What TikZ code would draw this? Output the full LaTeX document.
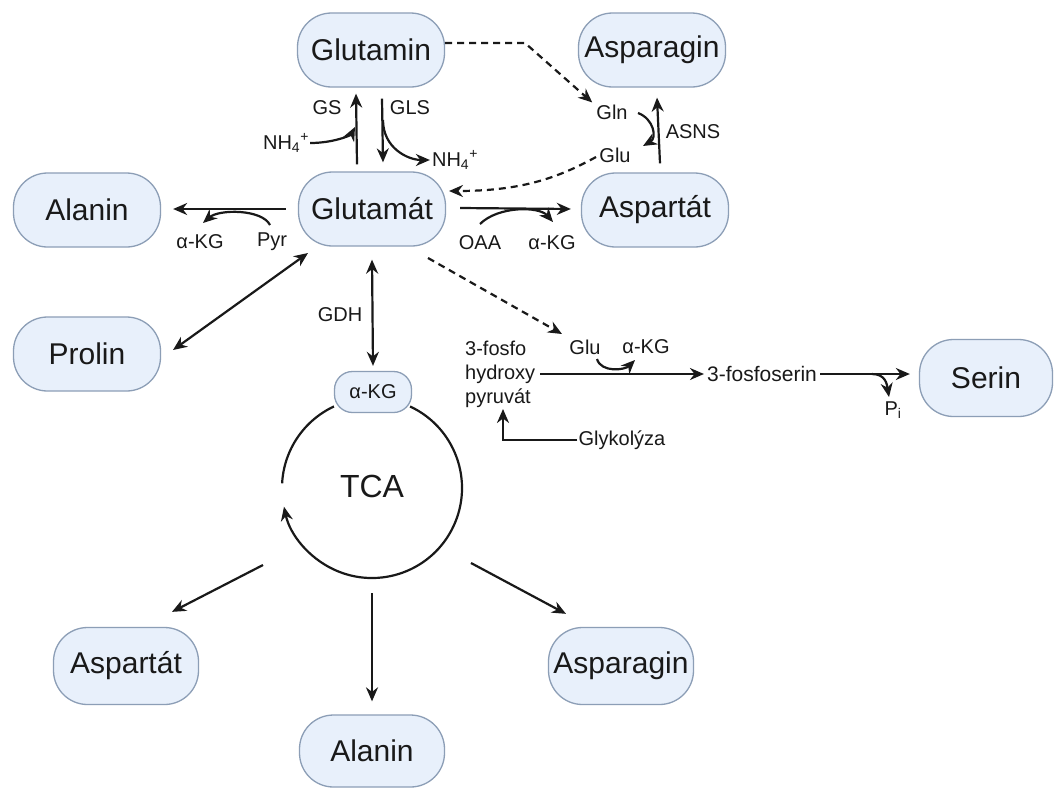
\documentclass[tikz,border=0pt]{standalone}
\usepackage{fontspec}
\setmainfont{Liberation Sans}
\usetikzlibrary{arrows.meta}
\definecolor{boxfill}{RGB}{232,240,251}
\definecolor{boxline}{RGB}{140,158,182}
\definecolor{ink}{RGB}{25,25,25}
\begin{document}
\begin{tikzpicture}[x=1pt,y=-1pt,
  box/.style={draw=boxline, fill=boxfill, line width=1.3pt, rounded corners=34pt,
    minimum width=147pt, minimum height=74pt, inner sep=0pt,
    font=\fontsize{30}{36}\selectfont, text=ink},
  lbl/.style={font=\fontsize{20}{24}\selectfont, inner sep=1pt, text=ink},
  arr/.style={line width=2.2pt, draw=ink, -{Stealth[length=14pt,width=12pt]}},
  darr/.style={arr, dash pattern=on 7pt off 5pt},
  biarr/.style={line width=2.2pt, draw=ink, {Stealth[length=14pt,width=12pt]}-{Stealth[length=14pt,width=12pt]}}
]
\useasboundingbox (0,0) rectangle (1056,787);
\fill[white] (0,0) rectangle (1056,787);

% main boxes
\node[box] (glutamin) at (371,50) {Glutamin};
\node[box] (asnT) at (652,50) {Asparagin};
\node[box] (glutamat) at (372,209) {Glutamát};
\node[box] (aspR) at (655,210) {Aspartát};
\node[box] (alaL) at (87,210) {Alanin};
\node[box] (prolin) at (87,354) {Prolin};
\node[box, minimum width=133pt, minimum height=77pt] (serin) at (986,378) {Serin};
\node[box, minimum width=145pt, minimum height=77pt] (aspB) at (126,666) {Aspartát};
\node[box, minimum width=145pt, minimum height=77pt] (asnB) at (621,666) {Asparagin};
\node[box, minimum width=145pt, minimum height=72pt] (alaB) at (372,751) {Alanin};

% TCA cycle
\node[font=\fontsize{32}{38}\selectfont, text=ink] (tca) at (372,486) {TCA};
\begin{scope}[shift={(372,488)}, x=1pt, y=1pt]
  \draw[line width=2.2pt, draw=ink] (115:90) arc[start angle=115, end angle=177, radius=90];
  \draw[arr] (65:90) arc[start angle=65, end angle=-168, radius=90];
\end{scope}
\node[box, minimum width=77pt, minimum height=41pt, rounded corners=18pt,
  font=\fontsize{20}{24}\selectfont] (akg) at (373,392) {α-KG};

% labels
\node[lbl] (gs) at (327,108) {GS};
\node[lbl] (gls) at (410,108) {GLS};
\node[lbl] (nhA) at (286,143) {NH\textsubscript{4}\textsuperscript{+}};
\node[lbl] (nhB) at (455,160) {NH\textsubscript{4}\textsuperscript{+}};
\node[lbl] (gln) at (612,112) {Gln};
\node[lbl] (glu) at (615,155) {Glu};
\node[lbl] (asns) at (693,132) {ASNS};
\node[lbl] (oaa) at (480,243) {OAA};
\node[lbl] (akgR) at (552,243) {α-KG};
\node[lbl] (akgL) at (200,242) {α-KG};
\node[lbl] (pyr) at (272,242) {Pyr};
\node[lbl] (gdh) at (340,315) {GDH};
\node[lbl] (glu2) at (585,347) {Glu};
\node[lbl] (akg2) at (646,347) {α-KG};
\node[lbl, anchor=west, align=left] (php) at (464,374) {3-fosfo\\hydroxy\\pyruvát};
\node[lbl, font=\fontsize{21}{25}\selectfont] (pser) at (762,374) {3-fosfoserin};
\node[lbl] (pi) at (893,410) {P\textsubscript{i}};
\node[lbl] (glyk) at (622,440) {Glykolýza};

% coordinates for free ends
\coordinate (gsin) at (355,127);
\coordinate (glsout) at (383,120);
\coordinate (bend1) at (525,43);
\coordinate (glnS) at (638,113);
\coordinate (gluE) at (643,146);
\coordinate (gluS) at (596,157);
\coordinate (gtE) at (449,191);
\coordinate (oaaS) at (480,224);
\coordinate (oaaE) at (553,222);
\coordinate (pyrS) at (270,225);
\coordinate (akgLE) at (203,223);
\coordinate (proA) at (308,253);
\coordinate (proB) at (173,350);
\coordinate (gtD) at (428,258);
\coordinate (glu2E) at (562,334);
\coordinate (g2S) at (597,359);
\coordinate (g2E) at (635,360);
\coordinate (piS) at (872,374);
\coordinate (piE) at (889,397);
\coordinate (phpE) at (503,409);
\coordinate (tcaL) at (263,565);
\coordinate (tcaM) at (372,593);
\coordinate (tcaR) at (471,563);

% Glutamin / Glutamat
\draw[arr] ([xshift=-15pt,yshift=7pt]glutamat.north) -- ([xshift=-15pt,yshift=-6pt]glutamin.south);
\draw[arr] ([xshift=11pt,yshift=-11pt]glutamin.south) -- ([xshift=11pt,yshift=9pt]glutamat.north);
\draw[arr] (nhA.east) .. controls +(24,0) and +(-4,8) .. (gsin);
\draw[arr] (glsout) .. controls +(0,28) and +(-22,0) .. ([xshift=-1pt]nhB.west);

% Glutamin -> Gln (dashed)
\draw[darr] ([yshift=7pt]glutamin.east) -- (bend1) -- ([xshift=-3pt,yshift=1pt]gln.north west);
% ASNS
\draw[arr] ([xshift=5pt,yshift=9pt]aspR.north) -- ([xshift=5pt,yshift=-10pt]asnT.south);
\draw[arr] (glnS) .. controls +(16,6) and +(14,-8) .. (gluE);
% Glu -> Glutamat (dashed)
\draw[darr] (gluS) .. controls +(-40,22) and +(70,0) .. (gtE);

% Glutamat -> Aspartat
\draw[arr] ([xshift=14pt,yshift=1pt]glutamat.east) -- ([xshift=-10pt]glutamat.east -| aspR.west);
\draw[arr] (oaaS) .. controls +(18,-18) and +(-14,-16) .. (oaaE);

% Glutamat -> Alanin
\draw[arr] ([xshift=-12pt]glutamat.west) -- ([xshift=12pt]glutamat.west -| alaL.east);
\draw[arr] (pyrS) .. controls +(-8,-16) and +(16,-14) .. (akgLE);

% Glutamat <-> Prolin
\draw[biarr] (proA) -- (proB);
% GDH
\draw[biarr] ([yshift=-13pt]glutamat.south) -- ([yshift=5pt]akg.north);

% serine branch
\draw[darr] (gtD) -- (glu2E);
\draw[arr] ([xshift=4pt]php.east) -- ([xshift=-2pt]pser.west);
\draw[arr] (g2S) .. controls +(4,14) and +(-10,10) .. (g2E);
\draw[arr] ([xshift=2pt]pser.east) -- ([xshift=-9pt]pser.east -| serin.west);
\draw[arr] (piS) .. controls +(14,0) and +(-2,-12) .. (piE);
\draw[arr] (glyk.west) -| (phpE);

% TCA outputs
\draw[arr] (tcaL) -- ([xshift=46pt,yshift=15pt]aspB.north);
\draw[arr] (tcaM) -- ([yshift=13pt]alaB.north);
\draw[arr] (tcaR) -- ([xshift=-55pt,yshift=13pt]asnB.north);
\end{tikzpicture}
\end{document}
